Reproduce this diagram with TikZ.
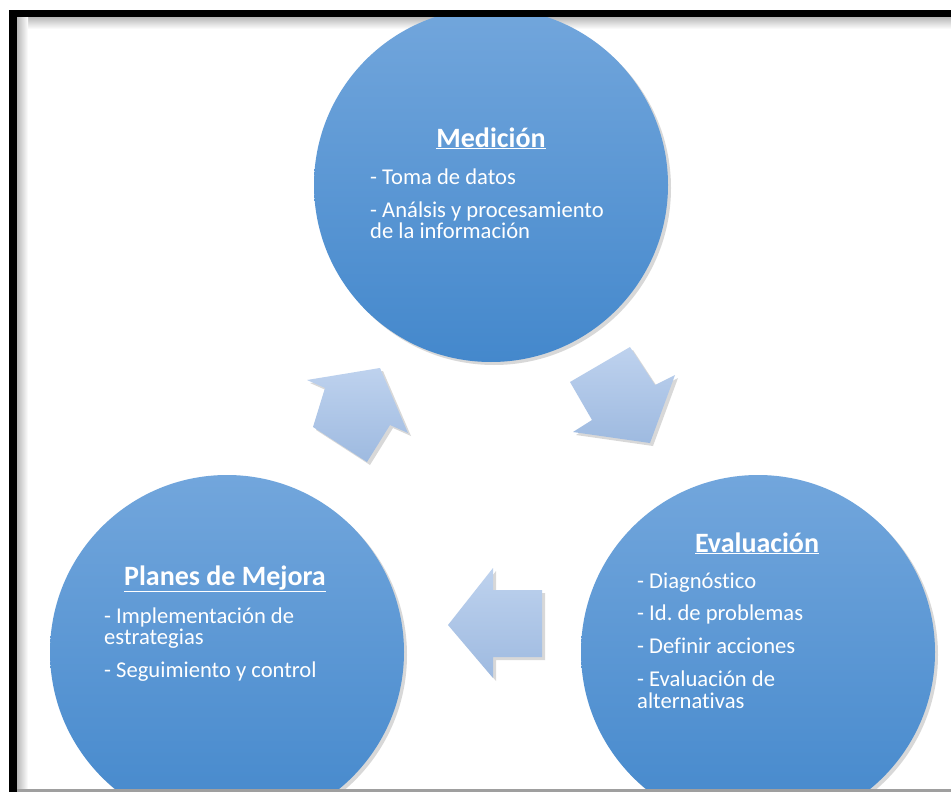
\documentclass[tikz,border=0pt]{standalone}
\usepackage{fontspec}
\setmainfont{Carlito}[Ligatures=NoCommon]
\usetikzlibrary{shadows}
\definecolor{circTop}{RGB}{114,166,220}
\definecolor{circBot}{RGB}{68,136,204}
\definecolor{arrTop}{RGB}{190,210,238}
\definecolor{arrBot}{RGB}{158,186,224}
\tikzset{
  phase/.style={circle, minimum size=354pt, inner sep=0pt, draw=none,
    top color=circTop, bottom color=circBot,
    drop shadow={shadow xshift=3pt, shadow yshift=-3pt, opacity=0.3}},
  blockarrow/.style={draw=none, top color=arrTop, bottom color=arrBot,
    drop shadow={shadow xshift=3pt, shadow yshift=-3pt, opacity=0.3}},
  ttl/.style={anchor=base, text=white, inner sep=0pt,
    font=\fontsize{28}{32}\selectfont\bfseries},
  itm/.style={anchor=base west, text=white, inner sep=0pt,
    font=\fontsize{22.6}{26}\selectfont\frenchspacing},
}
\begin{document}
\begin{tikzpicture}[x=1pt,y=-1pt]
\useasboundingbox (0,0) rectangle (951,792);
\fill[white] (0,0) rectangle (951,792);
% inner shadow of frame
\shade[top color=gray!55, bottom color=white] (17,17) rectangle (951,29);
\shade[left color=gray!55, right color=white] (17,17) rectangle (28,789);
\begin{scope}
\clip (17,17) rectangle (951,789);
\node[phase] (med) at (491,185) {};
\node[phase] (eva) at (758,652) {};
\node[phase] (pla) at (227,652) {};
% block arrows
\path[blockarrow] (630,347) -- (570,382) -- (592,420) -- (573,432) -- (650,443) -- (675,375) -- (655,385) -- cycle;
\path[blockarrow] (380,368) -- (408,433) -- (390,425) -- (367,462) -- (313,427) -- (325,388) -- (307,380) -- cycle;
\path[blockarrow] (448,625) -- (493,568) -- (493,590) -- (542,590) -- (542,657) -- (493,657) -- (493,678) -- cycle;
% texts
\node[ttl] (medT) at (491,147) {\underline{Medición}};
\node[itm] (med1) at (370,184) {- Toma de datos};
\node[itm] (med2) at (370,217) {- Análsis y procesamiento};
\node[itm] (med3) at (370,238) {de la información};
\node[ttl] (evaT) at (757,552) {\underline{Evaluación}};
\node[itm] (eva1) at (637,588) {- Diagnóstico};
\node[itm] (eva2) at (637,620) {- Id. de problemas};
\node[itm] (eva3) at (637,653) {- Definir acciones};
\node[itm] (eva4) at (637,686) {- Evaluación de};
\node[itm] (eva5) at (637,708) {alternativas};
\node[ttl] (plaT) at (225,585) {\underline{Planes de Mejora}};
\node[itm] (pla1) at (104,623) {- Implementación de};
\node[itm] (pla2) at (104,644) {estrategias};
\node[itm] (pla3) at (104,677) {- Seguimiento y control};
\end{scope}
% frame
\fill[black] (9,10) rectangle (17,792);
\fill[black] (9,10) rectangle (951,17);
\fill[gray!75] (17,789) rectangle (951,792);
\end{tikzpicture}
\end{document}
